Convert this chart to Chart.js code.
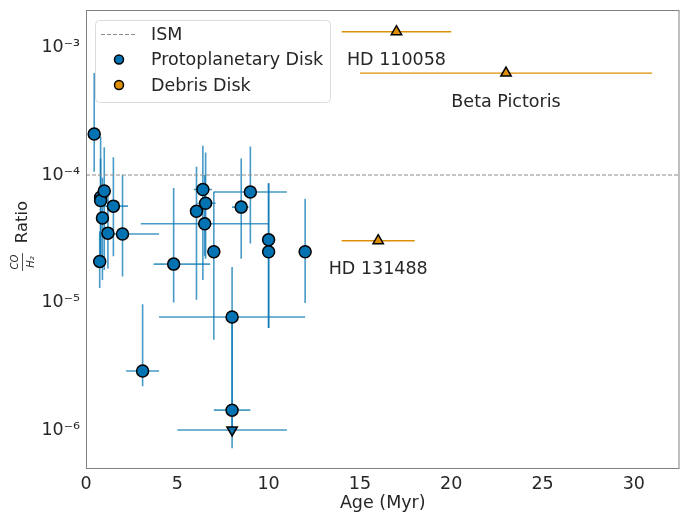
<!DOCTYPE html>
<html>
<head>
<meta charset="utf-8">
<script src="https://cdn.jsdelivr.net/npm/chart.js@4/dist/chart.umd.min.js"></script>
<style>
  html, body { margin: 0; padding: 0; background: #fff; }
  #c { display: block; }
</style>
</head>
<body>
<canvas id="c" width="687" height="513"></canvas>
<script>
// Protoplanetary disks: age (Myr), CO/H2 ratio and the extent of each error bar
const ppdAge     = [0.45, 0.75, 0.8, 0.8, 0.9, 1.0, 1.2, 1.5, 2.0, 3.1, 4.8, 6.05, 6.4, 6.55, 6.5, 7.0, 8.0, 8.0, 8.5, 9.0, 10.0, 10.0, 12.0];
const ppdRatio   = [2.1e-4, 2.1e-5, 6.7e-5, 6.3e-5, 4.6e-5, 7.5e-5, 3.5e-5, 5.7e-5, 3.45e-5, 2.9e-6, 2.0e-5, 5.2e-5, 7.7e-5, 6.0e-5, 4.15e-5, 2.5e-5, 7.7e-6, 1.43e-6, 5.6e-5, 7.35e-5, 3.1e-5, 2.5e-5, 2.5e-5];
const ppdAgeLo   = [0.45, 0.75, 0.8, 0.8, 0.9, 1.0, 1.2, 0.8, 1.0, 2.2, 3.7, 6.05, 5.9, 6.1, 3.0, 7.0, 4.0, 7.0, 8.0, 7.0, 10.0, 10.0, 12.0];
const ppdAgeHi   = [0.45, 0.75, 0.8, 0.8, 0.9, 1.0, 1.2, 2.3, 4.0, 4.0, 6.8, 6.05, 6.9, 7.1, 10.0, 7.0, 12.0, 9.0, 8.9, 11.0, 10.0, 10.0, 12.0];
const ppdRatioLo = [1.06e-4, 1.3e-5, 2.3e-5, 2.0e-5, 1.5e-5, 1.8e-5, 1.85e-5, 2.3e-5, 1.6e-5, 2.2e-6, 1.0e-5, 1.05e-5, 1.5e-5, 2.2e-5, 2.3e-5, 5.1e-6, 1.4e-6, 1.0e-6, 2.2e-5, 2.9e-5, 6.3e-6, 6.3e-6, 9.9e-6];
const ppdRatioHi = [6.3e-4, 3.6e-5, 2.0e-4, 1.35e-4, 9.5e-5, 1.65e-4, 8.0e-5, 1.38e-4, 1.0e-4, 9.7e-6, 7.9e-5, 1.16e-4, 1.7e-4, 1.5e-4, 1.0e-4, 7.4e-5, 1.9e-5, 7.7e-6, 1.35e-4, 1.67e-4, 8.6e-5, 8.6e-5, 6.5e-5];

// Protoplanetary disk with an upper limit only
const limAge     = [8.0];
const limRatio   = [1.0e-6];
const limAgeLo   = [5.0];
const limAgeHi   = [11.0];
const limRatioLo = [7.2e-7];
const limRatioHi = [1.43e-6];

// Debris disks
const debrisNames  = ['HD 110058', 'Beta Pictoris', 'HD 131488'];
const debrisAge    = [17, 23, 16];
const debrisAgeErr = [3, 8, 2];
const debrisRatio  = [1.33e-3, 6.3e-4, 3.05e-5];

// Interstellar medium reference value
const ismRatio = 1e-4;

// Axis ranges and ticks
const xRange = [0, 32.5];
const yRange = [4.94e-7, 1.97e-3];
const xTicks = [0, 5, 10, 15, 20, 25, 30];
const yTicks = [1e-6, 1e-5, 1e-4, 1e-3];
const yTickLabels = ['10\u207B\u2076', '10\u207B\u2075', '10\u207B\u2074', '10\u207B\u00B3'];

const BLUE = '#0173b2';
const ORANGE = '#de8f05';
const TEXT = '#262626';
const FONT = "'DejaVu Sans', sans-serif";

const pts = (xs, ys) => xs.map((x, i) => ({ x: x, y: ys[i] }));

// Error bars, drawn under the markers
const errorBars = {
  id: 'errorBars',
  beforeDatasetsDraw(chart) {
    const { ctx, chartArea: a, scales: { x, y } } = chart;
    ctx.save();
    ctx.beginPath();
    ctx.rect(a.left, a.top, a.right - a.left, a.bottom - a.top);
    ctx.clip();
    chart.data.datasets.forEach(ds => {
      const e = ds.err;
      if (!e) return;
      ctx.strokeStyle = e.color;
      ctx.lineWidth = e.width;
      ds.data.forEach((p, i) => {
        const px = x.getPixelForValue(p.x), py = y.getPixelForValue(p.y);
        if (e.xLo[i] !== e.xHi[i]) {
          ctx.beginPath();
          ctx.moveTo(x.getPixelForValue(e.xLo[i]), py);
          ctx.lineTo(x.getPixelForValue(e.xHi[i]), py);
          ctx.stroke();
        }
        if (e.yLo) {
          ctx.beginPath();
          ctx.moveTo(px, y.getPixelForValue(e.yLo[i]));
          ctx.lineTo(px, y.getPixelForValue(e.yHi[i]));
          ctx.stroke();
        }
      });
    });
    ctx.restore();
  }
};

// Axes frame, names of the debris disks, legend and y-axis title
const decorations = {
  id: 'decorations',
  afterDraw(chart) {
    const { ctx, chartArea: a, scales: { x, y } } = chart;
    ctx.save();

    // frame
    ctx.strokeStyle = '#808080';
    ctx.lineWidth = 1;
    ctx.strokeRect(a.left + 0.5, a.top + 0.5, a.right - a.left - 1, a.bottom - a.top - 1);

    // debris disk names under their markers
    ctx.fillStyle = TEXT;
    ctx.font = '17.5px ' + FONT;
    ctx.textAlign = 'center';
    ctx.textBaseline = 'middle';
    debrisNames.forEach((n, i) => {
      ctx.fillText(n, x.getPixelForValue(debrisAge[i]), y.getPixelForValue(debrisRatio[i]) + 29);
    });

    // legend
    const lx = 95, ly = 20, lw = 235, lh = 82;
    ctx.beginPath();
    ctx.roundRect(lx + 0.5, ly + 0.5, lw, lh, 4);
    ctx.fillStyle = 'rgba(255,255,255,0.85)';
    ctx.fill();
    ctx.strokeStyle = '#dcdcdc';
    ctx.lineWidth = 1;
    ctx.stroke();
    const ds = chart.data.datasets;
    const rows = [ds[0], ds[1], ds[3]];
    rows.forEach((d, i) => {
      const cy = 34 + i * 25.5;
      if (d.type === 'line') {
        ctx.beginPath();
        ctx.setLineDash(d.borderDash);
        ctx.strokeStyle = d.borderColor;
        ctx.lineWidth = 1;
        ctx.moveTo(101, cy + 0.5);
        ctx.lineTo(137, cy + 0.5);
        ctx.stroke();
        ctx.setLineDash([]);
      } else {
        ctx.beginPath();
        ctx.arc(119, cy, 4.5, 0, Math.PI * 2);
        ctx.fillStyle = d.pointBackgroundColor;
        ctx.fill();
        ctx.strokeStyle = '#000';
        ctx.lineWidth = 1.5;
        ctx.stroke();
      }
      ctx.fillStyle = TEXT;
      ctx.font = '17.5px ' + FONT;
      ctx.textAlign = 'left';
      ctx.textBaseline = 'middle';
      ctx.fillText(d.label, 151, cy + 1);
    });

    // y-axis title: CO/H2 fraction followed by "Ratio"
    ctx.translate(22, 240);
    ctx.rotate(-Math.PI / 2);
    ctx.fillStyle = TEXT;
    ctx.textAlign = 'center';
    ctx.textBaseline = 'middle';
    ctx.font = '16.5px ' + FONT;
    ctx.fillText('Ratio', 18, 1);
    ctx.font = 'italic 10px ' + FONT;
    ctx.fillText('CO', -22, -7);
    ctx.fillText('H\u2082', -22, 9);
    ctx.fillRect(-31, 0, 18, 0.8);
    ctx.restore();
  }
};

new Chart(document.getElementById('c'), {
  type: 'scatter',
  data: {
    datasets: [
      {
        type: 'line',
        label: 'ISM',
        data: [{ x: xRange[0], y: ismRatio }, { x: xRange[1], y: ismRatio }],
        borderColor: '#8c8c8c',
        borderWidth: 1,
        borderDash: [4, 2],
        pointRadius: 0,
        fill: false,
        order: 5
      },
      {
        label: 'Protoplanetary Disk',
        data: pts(ppdAge, ppdRatio),
        pointStyle: 'circle',
        pointRadius: 6,
        pointBackgroundColor: BLUE,
        pointBorderColor: '#000',
        pointBorderWidth: 1.5,
        showLine: false,
        err: { xLo: ppdAgeLo, xHi: ppdAgeHi, yLo: ppdRatioLo, yHi: ppdRatioHi, color: 'rgba(1,115,178,0.72)', width: 1.6 }
      },
      {
        label: 'Protoplanetary Disk (upper limit)',
        data: pts(limAge, limRatio),
        pointStyle: 'triangle',
        pointRotation: 180,
        pointRadius: 6,
        pointBackgroundColor: BLUE,
        pointBorderColor: '#000',
        pointBorderWidth: 1.5,
        showLine: false,
        err: { xLo: limAgeLo, xHi: limAgeHi, yLo: limRatioLo, yHi: limRatioHi, color: 'rgba(1,115,178,0.72)', width: 1.6 }
      },
      {
        label: 'Debris Disk',
        data: pts(debrisAge, debrisRatio),
        pointStyle: 'triangle',
        pointRadius: 6,
        pointBackgroundColor: ORANGE,
        pointBorderColor: '#000',
        pointBorderWidth: 1.5,
        showLine: false,
        err: {
          xLo: debrisAge.map((a, i) => a - debrisAgeErr[i]),
          xHi: debrisAge.map((a, i) => a + debrisAgeErr[i]),
          color: ORANGE, width: 1.3
        }
      }
    ]
  },
  options: {
    responsive: false,
    animation: false,
    devicePixelRatio: 1,
    layout: { padding: { left: 0, top: 10, right: 7, bottom: 0 } },
    plugins: { legend: { display: false }, tooltip: { enabled: false } },
    scales: {
      x: {
        type: 'linear',
        min: xRange[0],
        max: xRange[1],
        afterBuildTicks: s => { s.ticks = xTicks.map(v => ({ value: v })); },
        afterFit: s => { s.height = 44; s.paddingLeft = 0; s.paddingRight = 0; s.paddingTop = 0; s.paddingBottom = 0; },
        grid: { display: false, drawTicks: false },
        border: { display: false },
        ticks: { color: TEXT, font: { family: FONT, size: 17.5 }, padding: 5, maxRotation: 0 },
        title: { display: true, text: 'Age (Myr)', color: TEXT, font: { family: FONT, size: 17.5, lineHeight: 0.95 }, padding: { top: 0, bottom: 1 } }
      },
      y: {
        type: 'logarithmic',
        min: yRange[0],
        max: yRange[1],
        afterBuildTicks: s => { s.ticks = yTicks.map(v => ({ value: v })); },
        afterFit: s => { s.width = 86; s.paddingLeft = 0; s.paddingRight = 0; s.paddingTop = 0; s.paddingBottom = 0; },
        grid: { display: false, drawTicks: false },
        border: { display: false },
        ticks: {
          color: TEXT,
          font: { family: FONT, size: 17.5 },
          padding: 6,
          callback: v => { const i = yTicks.indexOf(v); return i >= 0 ? yTickLabels[i] : ''; }
        }
      }
    }
  },
  plugins: [errorBars, decorations]
});
</script>
</body>
</html>
